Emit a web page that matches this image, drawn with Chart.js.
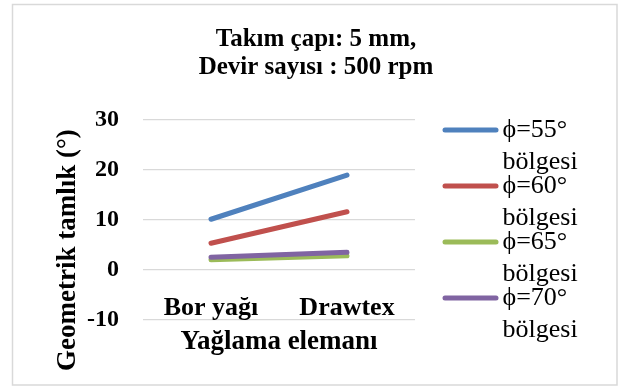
<!DOCTYPE html>
<html>
<head>
<meta charset="utf-8">
<script src="https://cdn.jsdelivr.net/npm/chart.js@4.4.1/dist/chart.umd.min.js"></script>
<style>
  html, body { margin: 0; padding: 0; background: #fff; }
</style>
</head>
<body>
<canvas id="chart" width="622" height="389"></canvas>
<script>
// veriler
const categories = ['Bor yağı', 'Drawtex'];
const seriesNames = [['ϕ=55°', 'bölgesi'], ['ϕ=60°', 'bölgesi'], ['ϕ=65°', 'bölgesi'], ['ϕ=70°', 'bölgesi']];
const phi55 = [10.1, 18.9];
const phi60 = [5.3, 11.6];
const phi65 = [2.0, 2.8];
const phi70 = [2.5, 3.5];
const yTicks = [-10, 0, 10, 20, 30];
const colors = ['#4F81BD', '#C0504D', '#9BBB59', '#8064A2'];

const serif = 'Liberation Serif';

// dış çerçeve
const framePlugin = {
    id: 'frame',
    beforeDraw(chart) {
        const ctx = chart.ctx;
        ctx.save();
        ctx.fillStyle = '#fff';
        ctx.fillRect(0, 0, chart.width, chart.height);
        ctx.strokeStyle = '#d9d9d9';
        ctx.lineWidth = 1.5;
        ctx.strokeRect(12.5, 4.5, 604.5, 380.5);
        ctx.restore();
    }
};

// sağdaki açıklama (iki satırlı etiketler)
const sideLegend = {
    id: 'sideLegend',
    afterDraw(chart) {
        const ctx = chart.ctx;
        const area = chart.chartArea;
        const x0 = area.right + 30;
        ctx.save();
        ctx.font = '26px "' + serif + '"';
        ctx.textBaseline = 'middle';
        ctx.textAlign = 'left';
        ctx.fillStyle = '#000';
        chart.data.datasets.forEach((ds, i) => {
            const y = area.top + 10.5 + i * 56;
            ctx.strokeStyle = ds.borderColor;
            ctx.lineWidth = 5;
            ctx.lineCap = 'round';
            ctx.beginPath();
            ctx.moveTo(x0, y);
            ctx.lineTo(x0 + 51, y);
            ctx.stroke();
            ds.label.forEach((line, k) => {
                ctx.fillText(line, x0 + 57.5, y + k * 32);
            });
        });
        ctx.restore();
    }
};

const seriesValues = [phi55, phi60, phi65, phi70];
const drawOrder = [3, 2, 1, 0];

new Chart(document.getElementById('chart'), {
    type: 'line',
    data: {
        labels: categories,
        datasets: seriesValues.map((vals, i) => ({
            label: seriesNames[i],
            data: vals,
            borderColor: colors[i],
            backgroundColor: colors[i],
            borderWidth: 5,
            borderCapStyle: 'round',
            borderJoinStyle: 'round',
            pointRadius: 0,
            pointHoverRadius: 0,
            fill: false,
            tension: 0,
            order: drawOrder[i]
        }))
    },
    options: {
        responsive: false,
        animation: false,
        devicePixelRatio: 1,
        layout: {
            padding: { left: 10, right: 0, top: 0, bottom: 69 }
        },
        plugins: {
            legend: { display: false },
            tooltip: { enabled: false },
            title: {
                display: true,
                text: ['Takım çapı: 5 mm,', 'Devir sayısı : 500 rpm'],
                color: '#000',
                font: { family: serif, size: 25, weight: 'bold', lineHeight: 1.11 },
                padding: { top: 26, bottom: 38 }
            }
        },
        scales: {
            x: {
                type: 'category',
                position: { y: 0 },
                offset: true,
                grid: { display: false },
                border: { display: false },
                ticks: {
                    color: '#000',
                    padding: 15,
                    maxRotation: 0,
                    font: { family: serif, size: 26, weight: 'bold' }
                },
                title: {
                    display: true,
                    text: 'Yağlama elemanı',
                    color: '#000',
                    font: { family: serif, size: 27, weight: 'bold' },
                    padding: { top: 0, bottom: 0 }
                },
                afterFit(scale) { scale.height = 88; }
            },
            y: {
                min: -10,
                max: 30,
                grid: { color: '#d9d9d9', lineWidth: 1.3, drawTicks: false },
                border: { display: false },
                afterBuildTicks(scale) { scale.ticks = yTicks.map(v => ({ value: v })); },
                ticks: {
                    color: '#000',
                    padding: 24,
                    font: { family: serif, size: 24, weight: 'bold' }
                },
                title: {
                    display: true,
                    // sondaki boşluklar başlığı Excel'deki gibi biraz aşağı kaydırır
                    text: 'Geometrik tamlık (°)' + '\u00a0'.repeat(9),
                    color: '#000',
                    font: { family: serif, size: 27, weight: 'bold' },
                    padding: { top: 42, bottom: 0 }
                },
                afterFit(scale) { scale.width = 133; }
            },
            // açıklama için sağda boş alan
            yRight: {
                type: 'linear',
                position: 'right',
                grid: { display: false },
                border: { display: false },
                ticks: { display: false },
                afterFit(scale) { scale.width = 207; }
            }
        }
    },
    plugins: [framePlugin, sideLegend]
});
</script>
</body>
</html>
